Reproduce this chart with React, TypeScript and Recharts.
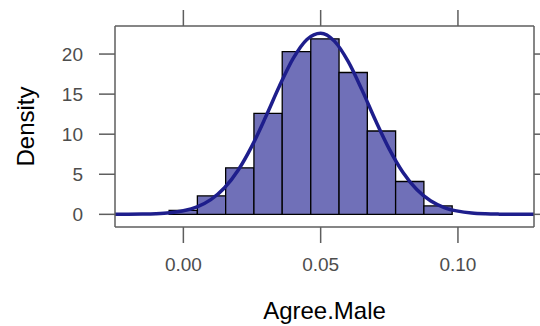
import { ComposedChart, Line, XAxis, YAxis, ReferenceArea } from "recharts"

// histogram bins (left edge, right edge, density)
const binStarts = [-0.0052, 0.0051, 0.0154, 0.0257, 0.036, 0.0464, 0.0567, 0.067, 0.0773, 0.0876]
const binEnds = [0.0051, 0.0154, 0.0257, 0.036, 0.0464, 0.0567, 0.067, 0.0773, 0.0876, 0.0979]
const binDensity = [0.5, 2.3, 5.8, 12.6, 20.3, 21.9, 17.7, 10.4, 4.1, 1.05]

// fitted density curve
const curveX = [
  -0.025, -0.02, -0.015, -0.01, -0.005, 0, 0.005, 0.01, 0.015, 0.02, 0.025, 0.03, 0.035, 0.04,
  0.045, 0.05, 0.055, 0.06, 0.065, 0.07, 0.075, 0.08, 0.085, 0.09, 0.095, 0.1, 0.105, 0.11,
  0.115, 0.12, 0.125, 0.1277,
]
const curveY = [
  0.003, 0.01, 0.028, 0.076, 0.19, 0.44, 0.93, 1.83, 3.31, 5.53, 8.54, 12.17, 16.01, 19.45,
  21.82, 22.6, 21.61, 19.08, 15.56, 11.71, 8.14, 5.22, 3.09, 1.69, 0.85, 0.4, 0.17, 0.068,
  0.025, 0.008, 0.003, 0.001,
]

const xTicks = [0, 0.05, 0.1]
const yTicks = [0, 5, 10, 15, 20]
const xDomain = [-0.0249, 0.1277]
const yDomain = [-1.58, 23.5]

const curve = curveX.map((x, i) => ({ x, density: curveY[i] }))
const bins = binStarts.map((s, i) => ({ x1: s, x2: binEnds[i], y: binDensity[i] }))

const axisColor = "#5e5e5e"
const font = "'Liberation Sans', Arial, sans-serif"
const tickStyle = { fontSize: 19, fill: "#4d4d4d", fontFamily: font }
const blank = () => ""

export default function App() {
  return (
    <div style={{ position: "absolute", left: 0, top: 0 }}>
      <ComposedChart width={540} height={326} data={curve} margin={{ top: 0, right: 0, bottom: 0, left: 0 }}>
        <XAxis
          dataKey="x"
          type="number"
          domain={xDomain}
          ticks={xTicks}
          allowDataOverflow
          height={99}
          tickSize={16}
          tickMargin={15}
          tick={tickStyle}
          tickFormatter={(v: number) => v.toFixed(2)}
          stroke={axisColor}
          strokeWidth={1.5}
          label={{ value: "Agree.Male", position: "insideBottom", offset: 7, fontSize: 24, fill: "#000", fontFamily: font }}
        />
        <XAxis
          xAxisId="top"
          dataKey="x"
          orientation="top"
          type="number"
          domain={xDomain}
          ticks={xTicks}
          allowDataOverflow
          height={26}
          tickSize={16}
          tickFormatter={blank}
          stroke={axisColor}
          strokeWidth={1.5}
        />
        <YAxis
          type="number"
          domain={yDomain}
          ticks={yTicks}
          allowDataOverflow
          width={115}
          tickSize={16}
          tickMargin={16}
          tick={tickStyle}
          stroke={axisColor}
          strokeWidth={1.5}
          label={{ value: "Density", angle: -90, position: "insideLeft", offset: 25, textAnchor: "middle", fontSize: 24, fill: "#000", fontFamily: font }}
        />
        <YAxis
          yAxisId="r"
          orientation="right"
          type="number"
          domain={yDomain}
          ticks={yTicks}
          allowDataOverflow
          width={6}
          tickSize={16}
          tickFormatter={blank}
          stroke={axisColor}
          strokeWidth={1.5}
        />
        {bins.map((b, i) => (
          <ReferenceArea
            key={i}
            x1={b.x1}
            x2={b.x2}
            y1={0}
            y2={b.y}
            fill="#7070b8"
            fillOpacity={1}
            stroke="#000"
            strokeWidth={1.3}
          />
        ))}
        {/* invisible series so the top and right frame axes get their scales */}
        <Line
          xAxisId="top"
          yAxisId="r"
          dataKey="density"
          stroke="none"
          dot={false}
          activeDot={false}
          isAnimationActive={false}
        />
        <Line
          dataKey="density"
          type="monotone"
          stroke="#1e1e8c"
          strokeWidth={3.5}
          dot={false}
          isAnimationActive={false}
        />
      </ComposedChart>
    </div>
  )
}
